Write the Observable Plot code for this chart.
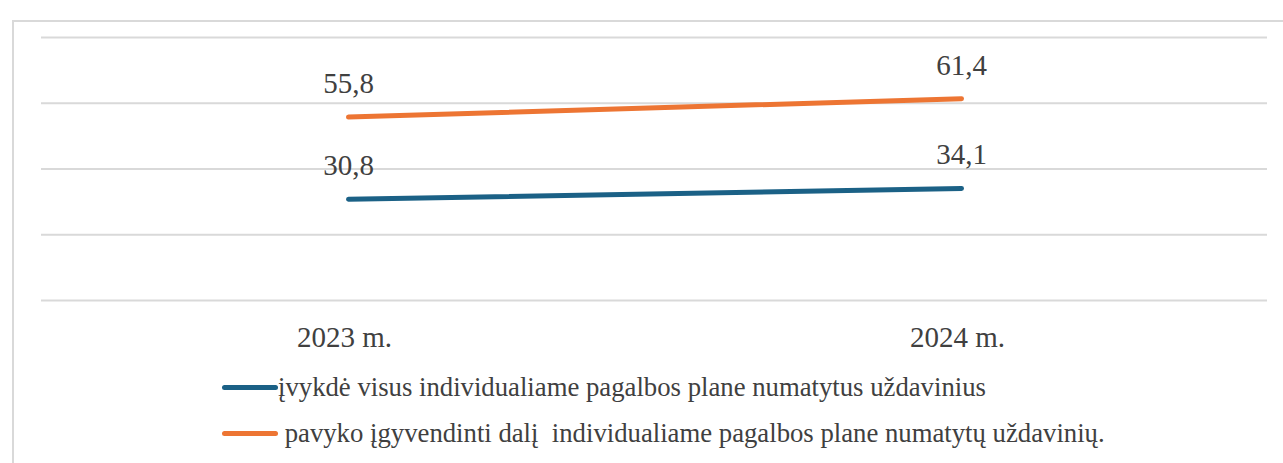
<!DOCTYPE html>
<html>
<head>
<meta charset="utf-8">
<script src="https://cdn.jsdelivr.net/npm/d3@7"></script>
<script src="https://cdn.jsdelivr.net/npm/@observablehq/plot@0.6"></script>
<style>
  html, body { margin: 0; padding: 0; background: #fff; }
  body { width: 1283px; height: 463px; overflow: hidden; position: relative; font-family: 'Liberation Serif', serif; }
  #frame { position: absolute; left: 12px; top: 20px; width: 1271px; height: 443px; border-left: 2px solid #d9d9d9; border-top: 2px solid #d9d9d9; box-sizing: border-box; }
  #chart { position: absolute; left: 14px; top: 22px; }
  #chart svg, #chart svg text { font-family: 'Liberation Serif', serif !important; }
  .leg { position: absolute; left: 222px; display: flex; align-items: center; color: #404040; white-space: pre; font-family: 'Liberation Serif', serif; }
  .sw { width: 56px; height: 5px; border-radius: 3px; display: inline-block; }
</style>
</head>
<body>
<div id="frame"></div>
<div id="chart"></div>
<div class="leg" id="leg1" style="top:372px"></div>
<div class="leg" id="leg2" style="top:418px"></div>
<script>
const years = ["2023 m.", "2024 m."];
const seriesNames = [
  "įvykdė visus individualiame pagalbos plane numatytus uždavinius",
  "pavyko įgyvendinti dalį  individualiame pagalbos plane numatytų uždavinių."
];
const seriesColors = ["#1b6186", "#ed7533"];
const allTasks = [30.8, 34.1];
const partTasks = [55.8, 61.4];
const yTicks = [0, 20, 40, 60, 80];

const fontFamily = "'Liberation Serif', serif";

const data = [];
years.forEach((y, i) => {
  data.push({year: y, value: allTasks[i], series: seriesNames[0]});
  data.push({year: y, value: partTasks[i], series: seriesNames[1]});
});
const fmt = v => v.toFixed(1).replace(".", ",");

const plot = Plot.plot({
  width: 1269,
  height: 340,
  marginLeft: 27,
  marginRight: 16,
  marginTop: 15,
  marginBottom: 62,
  style: {fontFamily, background: "transparent"},
  x: {type: "point", domain: years, padding: 0.5, label: null},
  y: {domain: [0, 80], axis: null},
  color: {domain: seriesNames, range: seriesColors},
  marks: [
    Plot.ruleY(yTicks, {stroke: "#d9d9d9", strokeWidth: 2}),
    Plot.axisX({tickSize: 0, tickPadding: 26, fontSize: 29, fill: "#404040", label: null, dx: -4}),
    Plot.line(data, {x: "year", y: "value", z: "series", stroke: "series", strokeWidth: 5, strokeLinecap: "round"}),
    Plot.text(data, {x: "year", y: "value", text: d => fmt(d.value), lineAnchor: "bottom", dy: -24, fontSize: 29, fill: "#404040"})
  ]
});
document.getElementById("chart").appendChild(plot);

const canvas = document.createElement("canvas");
const ctx = canvas.getContext("2d");
ctx.font = "100px " + fontFamily;
const legSize = Math.min(30, 100 * 708 / ctx.measureText(seriesNames[0]).width);

function legend(id, i, pad) {
  const el = document.getElementById(id);
  el.style.fontSize = legSize + "px";
  const sw = document.createElement("span");
  sw.className = "sw";
  sw.style.background = seriesColors[i];
  const t = document.createElement("span");
  t.textContent = (pad ? " " : "") + seriesNames[i];
  el.appendChild(sw);
  el.appendChild(t);
}
legend("leg1", 0, false);
legend("leg2", 1, true);
</script>
</body>
</html>
